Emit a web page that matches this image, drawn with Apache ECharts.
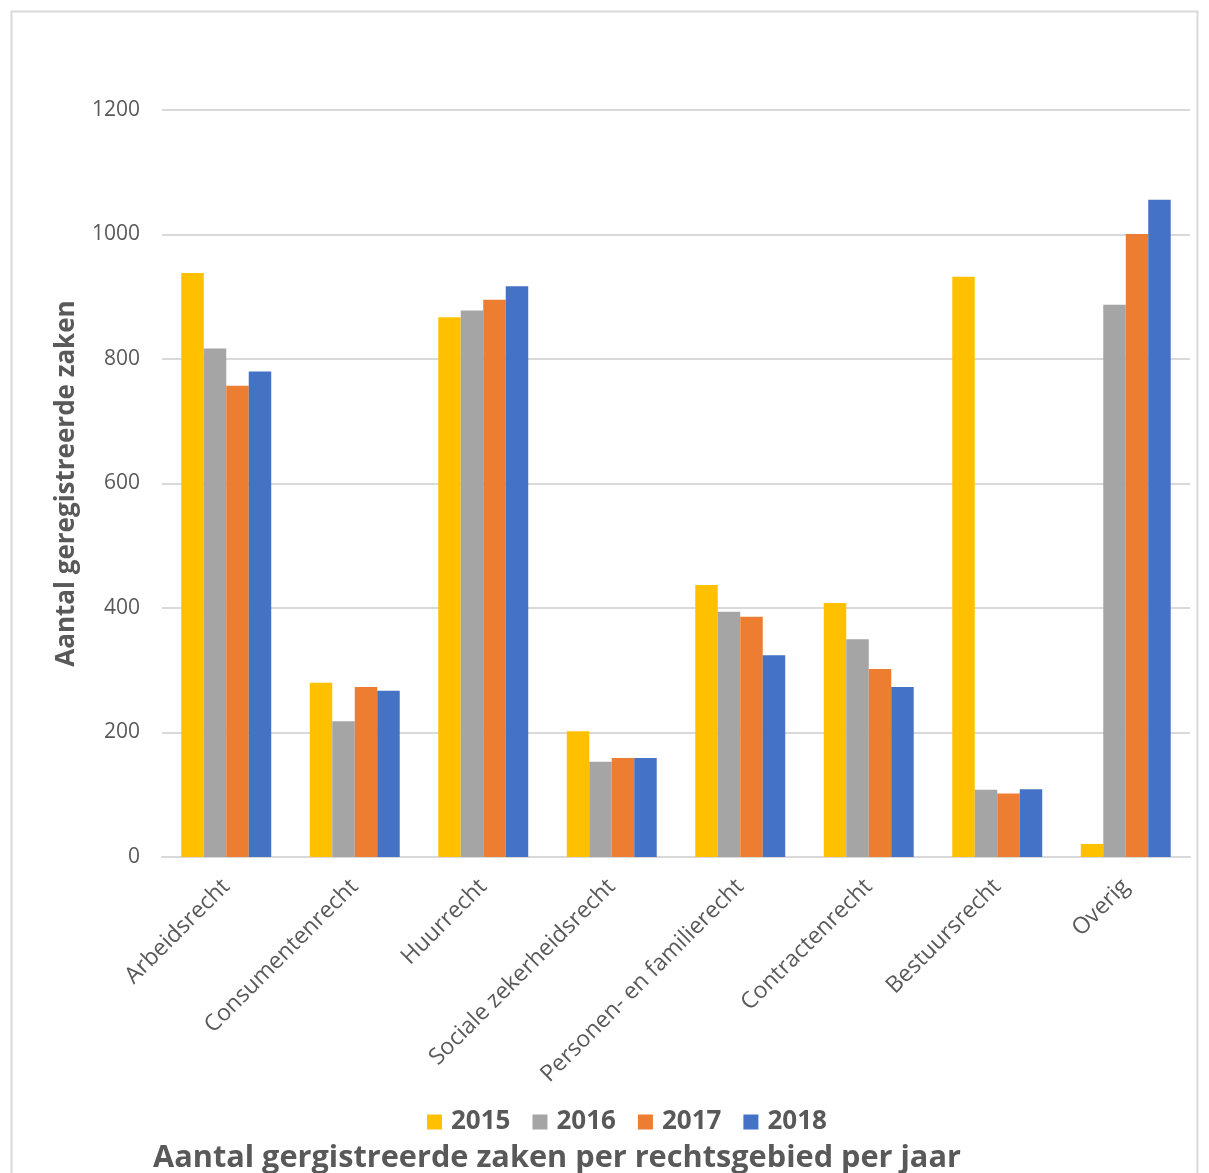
<!DOCTYPE html>
<html><head><meta charset="utf-8">
<script src="https://cdn.jsdelivr.net/npm/echarts@6/dist/echarts.min.js"></script>
<style>html,body{margin:0;padding:0;background:#fff}#c{width:1209px;height:1173px}</style>
</head><body><div id="c"></div>
<script>
const categories = ['Arbeidsrecht','Consumentenrecht','Huurrecht','Sociale zekerheidsrecht','Personen- en familierecht','Contractenrecht','Bestuursrecht','Overig'];
const years = ['2015','2016','2017','2018'];
const v2015 = [938, 280, 867, 202, 437, 408, 932, 21];
const v2016 = [817, 218, 878, 153, 394, 350, 108, 887];
const v2017 = [757, 273, 895, 159, 386, 302, 102, 1001];
const v2018 = [780, 267, 917, 159, 324, 273, 109, 1056];
const yTicks = [0, 200, 400, 600, 800, 1000, 1200];
const colors = ['#FFC000', '#A5A5A5', '#ED7D31', '#4472C4'];
const seriesValues = [v2015, v2016, v2017, v2018];

const FONT = 'Open Sans';
const chart = echarts.init(document.getElementById('c'));
chart.setOption({
  animation: false,
  color: colors,
  textStyle: { fontFamily: FONT },
  graphic: [
    { type: 'rect', shape: { x: 11.5, y: 11.5, width: 1186, height: 1200 }, style: { fill: 'none', stroke: '#d9d9d9', lineWidth: 2 }, silent: true },
    { type: 'text', left: 153, top: 1143, style: { text: 'Aantal gergistreerde zaken per rechtsgebied per jaar', font: 'bold 30.7px "Open Sans"', fill: '#595959' } }
  ],
  legend: {
    data: years, left: 422, top: 1104, itemWidth: 15, itemHeight: 15, itemGap: 22,
    icon: 'rect',
    textStyle: { fontSize: 26, fontWeight: 'bold', color: '#595959', fontFamily: FONT, padding: [0,0,0,4] }
  },
  grid: { left: 162, right: 19, top: 110, bottom: 316, containLabel: false },
  xAxis: {
    type: 'category', data: categories,
    axisLine: { lineStyle: { color: '#d9d9d9', width: 2 } },
    axisTick: { show: false },
    axisLabel: { rotate: 45, fontSize: 23, color: '#595959', margin: 26, interval: 0, fontFamily: FONT }
  },
  yAxis: {
    type: 'value', min: yTicks[0], max: yTicks[yTicks.length-1], interval: 200,
    name: 'Aantal geregistreerde zaken', nameLocation: 'middle', nameGap: 82,
    nameTextStyle: { fontSize: 26, fontWeight: 'bold', color: '#595959', fontFamily: FONT },
    axisLine: { show: false }, axisTick: { show: false },
    axisLabel: { fontSize: 21, color: '#595959', margin: 22, fontFamily: FONT, formatter: v => String(v) },
    splitLine: { lineStyle: { color: '#d9d9d9', width: 2 } }
  },
  series: years.map((y, i) => ({
    name: y, type: 'bar', data: seriesValues[i],
    barGap: '0%', barCategoryGap: '30%',
    itemStyle: { color: colors[i] }
  }))
});
</script></body></html>
